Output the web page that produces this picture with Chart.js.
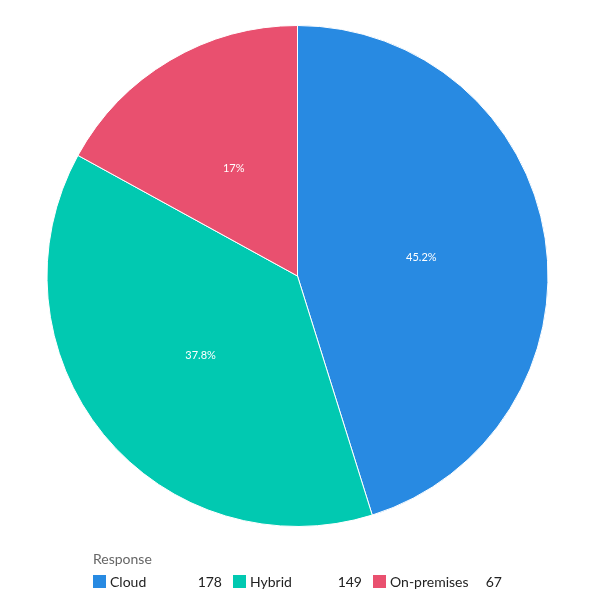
<!DOCTYPE html>
<html>
<head>
<meta charset="utf-8">
<script src="https://cdn.jsdelivr.net/npm/chart.js@4"></script>
<style>
  body { margin: 0; background: #fff; font-family: Lato, sans-serif; }
  #wrap { position: relative; width: 600px; height: 600px; }
  #chartBox { position: absolute; left: 0; top: 0; width: 595px; height: 552px; }
  #legend { position: absolute; left: 93px; top: 549px; }
  #legendTitle { color: #666; font-size: 14px; height: 20px; line-height: 20px; }
  #legendItems { display: flex; margin-top: 4px; }
  .item { display: flex; align-items: center; width: 140px; font-size: 14px; color: #222; }
  .swatch { width: 13px; height: 13px; margin-right: 4px; }
  .name { flex: 1; }
  .val { width: 30px; text-align: right; margin-right: 11px; }
</style>
</head>
<body>
<div id="wrap">
  <div id="chartBox"><canvas id="pieChart"></canvas></div>
  <div id="legend">
    <div id="legendTitle">Response</div>
    <div id="legendItems"></div>
  </div>
</div>
<script>
const categories = ['Cloud', 'Hybrid', 'On-premises'];
const counts = [178, 149, 67];
const colors = ['#288ae2', '#01c9b1', '#e9506f'];
const legendTitle = 'Response';

// percentage labels drawn in the middle of each slice
const sliceLabels = {
    id: 'sliceLabels',
    afterDatasetsDraw(chart) {
        const ctx = chart.ctx;
        const meta = chart.getDatasetMeta(0);
        const total = counts.reduce((a, b) => a + b, 0);
        ctx.save();
        ctx.fillStyle = '#fff';
        ctx.font = '11px Lato, sans-serif';
        ctx.textAlign = 'center';
        ctx.textBaseline = 'middle';
        meta.data.forEach((arc, i) => {
            const mid = (arc.startAngle + arc.endAngle) / 2;
            const r = arc.outerRadius / 2;
            const pct = Math.round(counts[i] / total * 1000) / 10;
            ctx.fillText(pct + '%', arc.x + Math.cos(mid) * r, arc.y + Math.sin(mid) * r);
        });
        ctx.restore();
    }
};

document.getElementById('legendTitle').textContent = legendTitle;

const ctx = document.getElementById('pieChart').getContext('2d');
new Chart(ctx, {
    type: 'pie',
    data: {
        labels: categories,
        datasets: [{
            data: counts,
            backgroundColor: colors,
            borderColor: '#fff',
            borderWidth: 1
        }]
    },
    options: {
        responsive: true,
        maintainAspectRatio: false,
        animation: false,
        layout: { padding: { top: 25, bottom: 25 } },
        plugins: {
            legend: { display: false },
            tooltip: { enabled: false }
        }
    },
    plugins: [sliceLabels]
});

// html legend with values
const legendItems = document.getElementById('legendItems');
categories.forEach((name, i) => {
    const item = document.createElement('div');
    item.className = 'item';
    item.innerHTML = '<span class="swatch" style="background:' + colors[i] + '"></span>' +
        '<span class="name"></span><span class="val"></span>';
    item.querySelector('.name').textContent = name;
    item.querySelector('.val').textContent = counts[i];
    legendItems.appendChild(item);
});
</script>
</body>
</html>
